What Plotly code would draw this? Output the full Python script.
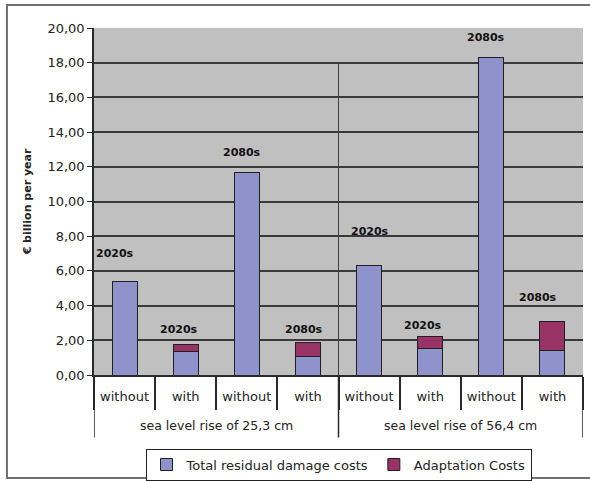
import plotly.graph_objects as go

group_names = ["sea level rise of 25,3 cm", "sea level rise of 56,4 cm"]
subs = ["without", "with", "without", "with", "without", "with", "without", "with"]
residual = [5.39, 1.35, 11.69, 1.06, 6.30, 1.54, 18.30, 1.39]
adaptation = [0.00, 0.38, 0.00, 0.83, 0.00, 0.67, 0.00, 1.69]
period_labels = ["2020s", "2020s", "2080s", "2080s", "2020s", "2020s", "2080s", "2080s"]

# label placement styling (pixel offsets of label centre from bar top)
label_dy = [28, 15, 20, 13, 34, 11, 20, 24]
label_dx = [-10, -7, -5, -4, 1, -7, -5, -14]

BLUE = "#8f93cc"
PURPLE = "#993366"
FONT = "DejaVu Sans"
LINE = "#2a2a2a"

xpos = list(range(len(subs)))
n_per_group = len(subs) // len(group_names)

fig = go.Figure()
fig.add_trace(go.Bar(x=xpos, y=residual, name="Total residual damage costs",
                     marker=dict(color=BLUE, line=dict(color="#202020", width=1))))
fig.add_trace(go.Bar(x=xpos, y=adaptation, name="Adaptation Costs",
                     marker=dict(color=PURPLE, line=dict(color="#202020", width=1))))

for i in xpos:
    total = residual[i] + adaptation[i]
    fig.add_annotation(x=i, y=total, text=period_labels[i], showarrow=False,
                       yanchor="middle", yshift=label_dy[i], xshift=label_dx[i],
                       font=dict(family=FONT, size=11, color="#111111", weight="bold"))

# group labels and group dividers below the axis
for g, name in enumerate(group_names):
    centre = g * n_per_group + (n_per_group - 1) / 2
    fig.add_annotation(x=centre, xref="x", y=-0.145, yref="paper", text=name, showarrow=False,
                       yanchor="middle", font=dict(family=FONT, size=12.5, color="#222222"))
for g in range(len(group_names) + 1):
    xb = g * n_per_group - 0.5
    fig.add_shape(type="line", xref="x", yref="paper", x0=xb, x1=xb, y0=0, y1=-0.18,
                  line=dict(color=LINE, width=1.5))

# outer frame
fig.add_shape(type="rect", xref="paper", yref="paper", x0=-0.178, x1=1.1, y0=-0.297, y1=1.066,
              line=dict(color="#707070", width=2), layer="below")
# separator line inside plot area between the two groups
fig.add_shape(type="line", xref="x", yref="y", x0=n_per_group - 0.5, x1=n_per_group - 0.5,
              y0=0, y1=18, line=dict(color="#404040", width=1))

fig.update_layout(
    width=590, height=481,
    margin=dict(l=94, r=7, t=28, b=106, autoexpand=False),
    barmode="stack", bargap=0.59,
    plot_bgcolor="#c0c0c0", paper_bgcolor="white",
    separators=", ",
    font=dict(family=FONT, size=13, color="#222222"),
    showlegend=True,
    legend=dict(orientation="h", x=0.5, xanchor="center", y=-0.212, yanchor="top",
                bordercolor="#222222", borderwidth=1, bgcolor="white", itemwidth=30,
                font=dict(family=FONT, size=13), traceorder="normal"),
    xaxis=dict(range=[-0.5, len(subs) - 0.5], tickvals=xpos, ticktext=subs,
               showline=True, linecolor=LINE, linewidth=1.5,
               ticks="", ticklabelstandoff=9, automargin=False,
               minor=dict(tickvals=[i - 0.5 for i in range(len(subs) + 1)], ticks="outside",
                          ticklen=33, tickcolor=LINE, tickwidth=1.5, showgrid=False),
               tickfont=dict(family=FONT, size=13), showgrid=False, zeroline=False),
    yaxis=dict(range=[0, 20], dtick=2, tickformat=".2f", showline=True, linecolor=LINE,
               linewidth=1.5, ticks="outside", ticklen=5, tickcolor=LINE,
               gridcolor="#3a3a3a", gridwidth=1.5, zeroline=False, automargin=False,
               tickfont=dict(family=FONT, size=13),
               title=dict(text="€ billion per year", font=dict(family=FONT, size=11, weight="bold"),
                          standoff=14)),
)

fig.write_html("out.html")
